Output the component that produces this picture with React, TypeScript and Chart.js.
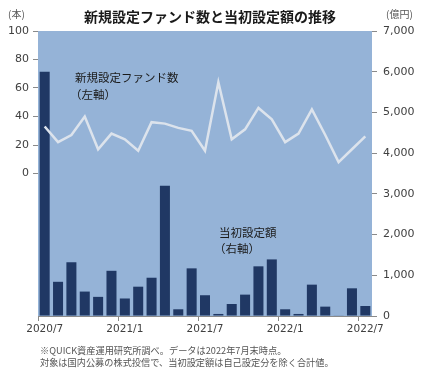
import React, { useEffect, useRef } from "react";
import { Chart, registerables } from "chart.js";

Chart.register(...registerables);

const monthLabels = [
  "2020/7", "2020/8", "2020/9", "2020/10", "2020/11", "2020/12",
  "2021/1", "2021/2", "2021/3", "2021/4", "2021/5", "2021/6",
  "2021/7", "2021/8", "2021/9", "2021/10", "2021/11", "2021/12",
  "2022/1", "2022/2", "2022/3", "2022/4", "2022/5", "2022/6", "2022/7",
];

// 当初設定額（億円, 右軸）
const initialAmount = [
  6000, 840, 1320, 600, 470, 1110, 430, 720, 940, 3200, 165, 1170, 510,
  50, 295, 525, 1220, 1390, 165, 50, 770, 230, 10, 680, 245,
];

// 新規設定ファンド数（本, 左軸）
const newFundCount = [
  33, 22, 27, 40, 17, 28, 24, 16, 36, 35, 32, 30, 16, 64, 24, 31, 46, 38,
  22, 28, 45, 27, 8, 17, 26,
];

const titleText = "新規設定ファンド数と当初設定額の推移";
const leftUnit = "(本)";
const rightUnit = "(億円)";
const lineLabel = ["新規設定ファンド数", "（左軸）"];
const barLabel = ["当初設定額", "（右軸）"];
const notes = [
  "※QUICK資産運用研究所調べ。データは2022年7月末時点。",
  "対象は国内公募の株式投信で、当初設定額は自己設定分を除く合計値。",
];

const CJK = '"Noto Sans CJK JP", "Noto Sans", sans-serif';
const NUM = '"DejaVu Sans", Verdana, sans-serif';

export default function App() {
  const ref = useRef<HTMLCanvasElement | null>(null);

  useEffect(() => {
    document.body.style.margin = "0";
    const canvas = ref.current;
    if (!canvas) return;

    const decor = {
      id: "decor",
      beforeDraw(chart: any) {
        const { ctx, chartArea } = chart;
        ctx.save();
        ctx.fillStyle = "#95B3D7";
        ctx.fillRect(
          chartArea.left,
          chartArea.top,
          chartArea.right - chartArea.left,
          chartArea.bottom - chartArea.top
        );
        ctx.restore();
      },
      afterDraw(chart: any) {
        const { ctx } = chart;
        ctx.save();
        ctx.textBaseline = "middle";
        // title
        ctx.fillStyle = "#1a1a1a";
        ctx.font = `bold 14px ${CJK}`;
        ctx.textAlign = "center";
        ctx.fillText(titleText, 210, 17);
        // units
        ctx.fillStyle = "#555";
        ctx.font = `10px ${CJK}`;
        ctx.textAlign = "left";
        ctx.fillText(leftUnit, 8, 14);
        ctx.fillText(rightUnit, 386, 14);
        // annotations
        ctx.fillStyle = "#1a1a1a";
        ctx.font = `11.5px ${CJK}`;
        ctx.fillText(lineLabel[0], 75, 78);
        ctx.fillText(lineLabel[1], 70, 95);
        ctx.fillText(barLabel[0], 219, 233);
        ctx.fillText(barLabel[1], 214, 249);
        // notes
        ctx.fillStyle = "#555";
        ctx.font = `9.2px ${CJK}`;
        ctx.fillText(notes[0], 40, 351);
        ctx.fillText(notes[1], 40, 363);
        ctx.restore();
      },
    };

    const chart = new Chart(canvas, {
      type: "bar",
      data: {
        labels: monthLabels,
        datasets: [
          {
            type: "line",
            label: "新規設定ファンド数",
            data: newFundCount,
            yAxisID: "y",
            borderColor: "#DCE3EC",
            borderWidth: 2.5,
            pointRadius: 0,
            tension: 0,
            order: 0,
          } as any,
          {
            type: "bar",
            label: "当初設定額",
            data: initialAmount,
            yAxisID: "y1",
            backgroundColor: "#203864",
            categoryPercentage: 1,
            barPercentage: 0.75,
            order: 1,
          },
        ],
      },
      options: {
        responsive: false,
        animation: false,
        layout: { padding: { top: 31, left: 0, right: 0, bottom: 0 } },
        plugins: {
          legend: { display: false },
          tooltip: { enabled: false },
          title: { display: false },
        },
        scales: {
          x: {
            grid: {
              offset: true,
              drawOnChartArea: false,
              tickLength: 5,
              color: (c: any) => (c.index % 6 === 0 ? "#8a8a8a" : "transparent"),
            },
            border: { display: true, color: "#8a8a8a" },
            ticks: {
              autoSkip: false,
              maxRotation: 0,
              padding: 2,
              color: "#404040",
              font: { family: NUM, size: 10.5 },
              callback: (_v: any, i: number) => (i % 6 === 0 ? monthLabels[i] : ""),
            },
            afterFit: (s: any) => {
              s.height = 65;
            },
          },
          y: {
            position: "left",
            min: -100,
            max: 100,
            grid: {
              drawOnChartArea: false,
              tickLength: 5,
              color: (c: any) =>
                c.tick && c.tick.value >= 0 ? "#8a8a8a" : "transparent",
            },
            border: { display: false },
            ticks: {
              stepSize: 20,
              padding: 4,
              color: "#404040",
              font: { family: NUM, size: 11 },
              callback: (v: any) => (Number(v) >= 0 ? String(v) : ""),
            },
            afterFit: (s: any) => {
              s.width = 38;
            },
          },
          y1: {
            position: "right",
            min: 0,
            max: 7000,
            grid: {
              drawOnChartArea: false,
              tickLength: 5,
              color: "#8a8a8a",
            },
            border: { display: false },
            ticks: {
              stepSize: 1000,
              padding: 6,
              color: "#404040",
              font: { family: NUM, size: 11 },
              callback: (v: any) => Number(v).toLocaleString("en-US"),
            },
            afterFit: (s: any) => {
              s.width = 53;
            },
          },
        },
      },
      plugins: [decor],
    });

    return () => chart.destroy();
  }, []);

  return <canvas ref={ref} width={425} height={381} style={{ display: "block" }} />;
}
